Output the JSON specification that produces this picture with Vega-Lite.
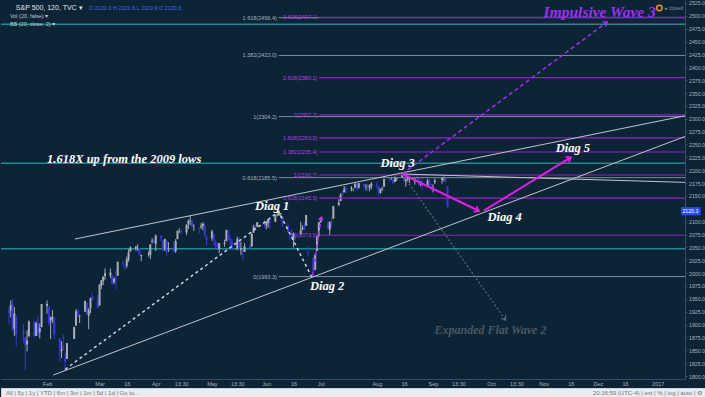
{
"$schema":"https://vega.github.io/schema/vega-lite/v6.json",
"background":"#0c2436",
"padding":0,
"spacing":0,
"config":{"view":{"stroke":null},"font":"Liberation Sans","axis":{"grid":false,"labelOverlap":false}},
"datasets":{
"bars":[
{"t":"2016-01-11","o":1926,"h":1935,"l":1901,"c":1923},{"t":"2016-01-12","o":1927,"h":1947,"l":1914,"c":1938},{"t":"2016-01-13","o":1940,"h":1950,"l":1886,"c":1890},{"t":"2016-01-14","o":1892,"h":1934,"l":1878,"c":1922},{"t":"2016-01-15","o":1917,"h":1917,"l":1857,"c":1880},{"t":"2016-01-19","o":1888,"h":1901,"l":1864,"c":1881},{"t":"2016-01-20","o":1876,"h":1876,"l":1812,"c":1859},{"t":"2016-01-21","o":1861,"h":1889,"l":1848,"c":1869},{"t":"2016-01-22","o":1877,"h":1908,"l":1877,"c":1906},{"t":"2016-01-25","o":1906,"h":1906,"l":1875,"c":1878},{"t":"2016-01-26","o":1878,"h":1906,"l":1878,"c":1903},{"t":"2016-01-27","o":1903,"h":1917,"l":1878,"c":1882},{"t":"2016-01-28","o":1885,"h":1902,"l":1873,"c":1893},{"t":"2016-01-29","o":1895,"h":1940,"l":1895,"c":1940},
{"t":"2016-02-01","o":1936,"h":1947,"l":1921,"c":1940},{"t":"2016-02-02","o":1935,"h":1935,"l":1898,"c":1903},{"t":"2016-02-03","o":1908,"h":1916,"l":1872,"c":1913},{"t":"2016-02-04","o":1911,"h":1928,"l":1903,"c":1915},{"t":"2016-02-05","o":1914,"h":1914,"l":1872,"c":1880},{"t":"2016-02-08","o":1873,"h":1873,"l":1828,"c":1853},{"t":"2016-02-09","o":1848,"h":1868,"l":1835,"c":1852},{"t":"2016-02-10","o":1858,"h":1881,"l":1850,"c":1851},{"t":"2016-02-11","o":1833,"h":1846,"l":1810,"c":1829},{"t":"2016-02-12","o":1833,"h":1864,"l":1833,"c":1864},{"t":"2016-02-16","o":1872,"h":1896,"l":1872,"c":1895},{"t":"2016-02-17","o":1898,"h":1930,"l":1898,"c":1926},{"t":"2016-02-18","o":1927,"h":1930,"l":1915,"c":1917},{"t":"2016-02-19","o":1916,"h":1919,"l":1903,"c":1917},{"t":"2016-02-22","o":1925,"h":1946,"l":1925,"c":1946},{"t":"2016-02-23","o":1942,"h":1942,"l":1919,"c":1921},{"t":"2016-02-24","o":1917,"h":1932,"l":1891,"c":1929},{"t":"2016-02-25","o":1932,"h":1952,"l":1922,"c":1952},{"t":"2016-02-26","o":1955,"h":1962,"l":1946,"c":1948},{"t":"2016-02-29","o":1947,"h":1958,"l":1932,"c":1932},
{"t":"2016-03-01","o":1937,"h":1978,"l":1937,"c":1978},{"t":"2016-03-02","o":1976,"h":1986,"l":1969,"c":1986},{"t":"2016-03-03","o":1985,"h":1994,"l":1977,"c":1993},{"t":"2016-03-04","o":1994,"h":2009,"l":1987,"c":2000},{"t":"2016-03-07","o":1996,"h":2009,"l":1990,"c":2001},{"t":"2016-03-08","o":1996,"h":1996,"l":1977,"c":1979},{"t":"2016-03-09","o":1982,"h":1992,"l":1979,"c":1989},{"t":"2016-03-10","o":1991,"h":2005,"l":1969,"c":1989},{"t":"2016-03-11","o":1995,"h":2022,"l":1995,"c":2022},{"t":"2016-03-14","o":2020,"h":2024,"l":2013,"c":2019},{"t":"2016-03-15","o":2016,"h":2016,"l":2006,"c":2015},{"t":"2016-03-16","o":2014,"h":2032,"l":2010,"c":2027},{"t":"2016-03-17","o":2026,"h":2046,"l":2022,"c":2040},{"t":"2016-03-18","o":2042,"h":2052,"l":2042,"c":2050},{"t":"2016-03-21","o":2048,"h":2053,"l":2044,"c":2051},{"t":"2016-03-22","o":2048,"h":2056,"l":2043,"c":2049},{"t":"2016-03-23","o":2048,"h":2049,"l":2034,"c":2036},{"t":"2016-03-24","o":2033,"h":2036,"l":2023,"c":2035},{"t":"2016-03-28","o":2037,"h":2042,"l":2032,"c":2037},{"t":"2016-03-29","o":2035,"h":2056,"l":2027,"c":2056},{"t":"2016-03-30","o":2061,"h":2068,"l":2058,"c":2063},{"t":"2016-03-31","o":2063,"h":2067,"l":2058,"c":2060},
{"t":"2016-04-01","o":2057,"h":2075,"l":2043,"c":2073},{"t":"2016-04-04","o":2073,"h":2074,"l":2062,"c":2067},{"t":"2016-04-05","o":2063,"h":2063,"l":2042,"c":2045},{"t":"2016-04-06","o":2046,"h":2067,"l":2043,"c":2066},{"t":"2016-04-07","o":2063,"h":2063,"l":2033,"c":2041},{"t":"2016-04-08","o":2046,"h":2060,"l":2041,"c":2048},{"t":"2016-04-11","o":2050,"h":2062,"l":2041,"c":2041},{"t":"2016-04-12","o":2043,"h":2066,"l":2039,"c":2062},{"t":"2016-04-13","o":2066,"h":2083,"l":2066,"c":2082},{"t":"2016-04-14","o":2082,"h":2087,"l":2078,"c":2082},{"t":"2016-04-15","o":2083,"h":2083,"l":2075,"c":2080},{"t":"2016-04-18","o":2079,"h":2095,"l":2074,"c":2094},{"t":"2016-04-19","o":2096,"h":2104,"l":2086,"c":2101},{"t":"2016-04-20","o":2101,"h":2111,"l":2093,"c":2102},{"t":"2016-04-21","o":2102,"h":2103,"l":2088,"c":2091},{"t":"2016-04-22","o":2091,"h":2095,"l":2082,"c":2092},{"t":"2016-04-25","o":2089,"h":2089,"l":2077,"c":2088},{"t":"2016-04-26","o":2089,"h":2097,"l":2086,"c":2091},{"t":"2016-04-27","o":2091,"h":2099,"l":2083,"c":2096},{"t":"2016-04-28","o":2091,"h":2097,"l":2071,"c":2075},{"t":"2016-04-29","o":2071,"h":2074,"l":2054,"c":2065},
{"t":"2016-05-02","o":2068,"h":2084,"l":2063,"c":2081},{"t":"2016-05-03","o":2077,"h":2077,"l":2054,"c":2064},{"t":"2016-05-04","o":2060,"h":2064,"l":2045,"c":2052},{"t":"2016-05-05","o":2053,"h":2060,"l":2045,"c":2051},{"t":"2016-05-06","o":2047,"h":2058,"l":2039,"c":2058},{"t":"2016-05-09","o":2057,"h":2065,"l":2051,"c":2059},{"t":"2016-05-10","o":2062,"h":2084,"l":2062,"c":2084},{"t":"2016-05-11","o":2083,"h":2083,"l":2064,"c":2064},{"t":"2016-05-12","o":2067,"h":2073,"l":2053,"c":2065},{"t":"2016-05-13","o":2062,"h":2067,"l":2044,"c":2047},{"t":"2016-05-16","o":2046,"h":2071,"l":2046,"c":2066},{"t":"2016-05-17","o":2066,"h":2070,"l":2044,"c":2047},{"t":"2016-05-18","o":2045,"h":2061,"l":2035,"c":2048},{"t":"2016-05-19","o":2045,"h":2045,"l":2025,"c":2041},{"t":"2016-05-20","o":2041,"h":2058,"l":2041,"c":2052},{"t":"2016-05-23","o":2053,"h":2055,"l":2047,"c":2048},{"t":"2016-05-24","o":2052,"h":2079,"l":2052,"c":2076},{"t":"2016-05-25","o":2079,"h":2094,"l":2078,"c":2090},{"t":"2016-05-26","o":2091,"h":2094,"l":2085,"c":2090},{"t":"2016-05-27","o":2090,"h":2099,"l":2090,"c":2099},{"t":"2016-05-31","o":2100,"h":2104,"l":2089,"c":2097},
{"t":"2016-06-01","o":2093,"h":2101,"l":2085,"c":2100},{"t":"2016-06-02","o":2097,"h":2105,"l":2088,"c":2105},{"t":"2016-06-03","o":2104,"h":2104,"l":2086,"c":2099},{"t":"2016-06-06","o":2100,"h":2114,"l":2099,"c":2110},{"t":"2016-06-07","o":2111,"h":2120,"l":2110,"c":2112},{"t":"2016-06-08","o":2112,"h":2121,"l":2112,"c":2119},{"t":"2016-06-09","o":2115,"h":2117,"l":2107,"c":2116},{"t":"2016-06-10","o":2110,"h":2110,"l":2089,"c":2096},{"t":"2016-06-13","o":2091,"h":2098,"l":2078,"c":2079},{"t":"2016-06-14","o":2076,"h":2081,"l":2064,"c":2075},{"t":"2016-06-15","o":2077,"h":2086,"l":2070,"c":2072},{"t":"2016-06-16","o":2067,"h":2079,"l":2050,"c":2077},{"t":"2016-06-17","o":2074,"h":2074,"l":2063,"c":2071},{"t":"2016-06-20","o":2075,"h":2100,"l":2075,"c":2083},{"t":"2016-06-21","o":2085,"h":2093,"l":2083,"c":2088},{"t":"2016-06-22","o":2089,"h":2099,"l":2084,"c":2085},{"t":"2016-06-23","o":2092,"h":2113,"l":2092,"c":2113},{"t":"2016-06-24","o":2038,"h":2052,"l":2032,"c":2037},{"t":"2016-06-27","o":2031,"h":2031,"l":1992,"c":2001},{"t":"2016-06-28","o":2006,"h":2036,"l":2006,"c":2036},{"t":"2016-06-29","o":2043,"h":2073,"l":2043,"c":2071},{"t":"2016-06-30","o":2073,"h":2098,"l":2070,"c":2099},
{"t":"2016-07-01","o":2099,"h":2109,"l":2098,"c":2103},{"t":"2016-07-05","o":2096,"h":2101,"l":2086,"c":2088},{"t":"2016-07-06","o":2084,"h":2100,"l":2074,"c":2100},{"t":"2016-07-07","o":2100,"h":2109,"l":2089,"c":2097},{"t":"2016-07-08","o":2106,"h":2131,"l":2106,"c":2130},{"t":"2016-07-11","o":2132,"h":2143,"l":2131,"c":2137},{"t":"2016-07-12","o":2140,"h":2155,"l":2140,"c":2152},{"t":"2016-07-13","o":2156,"h":2159,"l":2150,"c":2152},{"t":"2016-07-14","o":2157,"h":2169,"l":2157,"c":2163},{"t":"2016-07-15","o":2165,"h":2169,"l":2156,"c":2162},{"t":"2016-07-18","o":2163,"h":2169,"l":2159,"c":2166},{"t":"2016-07-19","o":2163,"h":2164,"l":2159,"c":2163},{"t":"2016-07-20","o":2166,"h":2175,"l":2165,"c":2173},{"t":"2016-07-21","o":2173,"h":2175,"l":2160,"c":2165},{"t":"2016-07-22","o":2166,"h":2175,"l":2164,"c":2175},{"t":"2016-07-25","o":2173,"h":2173,"l":2165,"c":2169},{"t":"2016-07-26","o":2168,"h":2173,"l":2161,"c":2169},{"t":"2016-07-27","o":2170,"h":2174,"l":2159,"c":2166},{"t":"2016-07-28","o":2166,"h":2173,"l":2159,"c":2170},{"t":"2016-07-29","o":2169,"h":2177,"l":2163,"c":2174},
{"t":"2016-08-01","o":2173,"h":2178,"l":2163,"c":2171},{"t":"2016-08-02","o":2169,"h":2170,"l":2148,"c":2157},{"t":"2016-08-03","o":2156,"h":2164,"l":2154,"c":2164},{"t":"2016-08-04","o":2163,"h":2168,"l":2160,"c":2164},{"t":"2016-08-05","o":2168,"h":2183,"l":2168,"c":2183},{"t":"2016-08-08","o":2183,"h":2185,"l":2178,"c":2181},{"t":"2016-08-09","o":2182,"h":2187,"l":2181,"c":2182},{"t":"2016-08-10","o":2182,"h":2183,"l":2172,"c":2175},{"t":"2016-08-11","o":2177,"h":2188,"l":2177,"c":2186},{"t":"2016-08-12","o":2183,"h":2186,"l":2179,"c":2184},{"t":"2016-08-15","o":2186,"h":2194,"l":2186,"c":2191},{"t":"2016-08-16","o":2187,"h":2187,"l":2179,"c":2179},{"t":"2016-08-17","o":2178,"h":2183,"l":2168,"c":2182},{"t":"2016-08-18","o":2181,"h":2188,"l":2180,"c":2187},{"t":"2016-08-19","o":2184,"h":2185,"l":2175,"c":2184},{"t":"2016-08-22","o":2181,"h":2185,"l":2172,"c":2182},{"t":"2016-08-23","o":2187,"h":2193,"l":2186,"c":2186},{"t":"2016-08-24","o":2185,"h":2186,"l":2171,"c":2175},{"t":"2016-08-25","o":2173,"h":2179,"l":2169,"c":2173},{"t":"2016-08-26","o":2175,"h":2187,"l":2160,"c":2169},{"t":"2016-08-29","o":2170,"h":2183,"l":2170,"c":2180},{"t":"2016-08-30","o":2179,"h":2183,"l":2170,"c":2176},{"t":"2016-08-31","o":2173,"h":2174,"l":2161,"c":2171},
{"t":"2016-09-01","o":2171,"h":2173,"l":2157,"c":2171},{"t":"2016-09-02","o":2177,"h":2184,"l":2173,"c":2180},{"t":"2016-09-06","o":2181,"h":2186,"l":2174,"c":2186},{"t":"2016-09-07","o":2185,"h":2188,"l":2178,"c":2186},{"t":"2016-09-08","o":2183,"h":2185,"l":2175,"c":2181},{"t":"2016-09-09","o":2169,"h":2169,"l":2128,"c":2128}
],
"teal":[{"p":2483.5},{"p":2213.4},{"p":2047.5}],
"gfib":[{"t":"2016-06-07T22:00:00Z","t2":"2017-01-24T00:00:00Z","p":1993.3,"lv":"0(1993.3)"},{"t":"2016-06-07T22:00:00Z","t2":"2017-01-24T00:00:00Z","p":2185.5,"lv":"0.618(2185.5)"},{"t":"2016-06-07T22:00:00Z","t2":"2017-01-24T00:00:00Z","p":2304.2,"lv":"1(2304.2)"},{"t":"2016-06-07T22:00:00Z","t2":"2017-01-24T00:00:00Z","p":2423.0,"lv":"1.382(2423.0)"},{"t":"2016-06-07T22:00:00Z","t2":"2017-01-24T00:00:00Z","p":2496.4,"lv":"1.618(2496.4)"}],
"mfib":[{"t":"2016-06-30T07:00:00Z","t2":"2017-01-24T00:00:00Z","p":2073.6,"lv":"0(2073.6)"},{"t":"2016-06-30T07:00:00Z","t2":"2017-01-24T00:00:00Z","p":2145.9,"lv":"0.618(2145.9)"},{"t":"2016-06-30T07:00:00Z","t2":"2017-01-24T00:00:00Z","p":2190.7,"lv":"1(2190.7)"},{"t":"2016-06-30T07:00:00Z","t2":"2017-01-24T00:00:00Z","p":2235.4,"lv":"1.382(2235.4)"},{"t":"2016-06-30T07:00:00Z","t2":"2017-01-24T00:00:00Z","p":2263.0,"lv":"1.618(2263.0)"},{"t":"2016-06-30T07:00:00Z","t2":"2017-01-24T00:00:00Z","p":2307.7,"lv":"2(2307.7)"},{"t":"2016-06-30T07:00:00Z","t2":"2017-01-24T00:00:00Z","p":2380.1,"lv":"2.618(2380.1)"},{"t":"2016-06-30T07:00:00Z","t2":"2017-01-24T00:00:00Z","p":2497.1,"lv":"3.618(2497.1)"}],
"chan":[{"id":"lo","t":"2016-02-04T11:00:00Z","p":1801.9},{"id":"lo","t":"2017-01-24T00:00:00Z","p":2273.5},{"id":"up","t":"2016-02-16T10:30:00Z","p":2066.3},{"id":"up","t":"2017-01-24T00:00:00Z","p":2310.0},{"id":"sl","t":"2016-08-15T00:00:00Z","p":2192.6},{"id":"sl","t":"2017-01-24T00:00:00Z","p":2175.7}],
"wdash":[{"t":"2016-02-11T00:00:00Z","p":1813.0},{"t":"2016-06-07T22:00:00Z","p":2119.3},{"t":"2016-06-26T00:00:00Z","p":1993.0}],
"mdash":[{"id":"a","t":"2016-06-26T12:00:00Z","p":1994.0},{"id":"a","t":"2016-07-01T10:00:00Z","p":2109.0},{"id":"b","t":"2016-08-15T00:00:00Z","p":2192.6},{"id":"b","t":"2016-12-06T02:00:00Z","p":2488.0}],
"gdash":[{"t":"2016-08-15T00:00:00Z","p":2192.6},{"t":"2016-10-11T02:00:00Z","p":1908.8}],
"marrow":[{"id":"a","t":"2016-08-15T00:00:00Z","p":2192.6},{"id":"a","t":"2016-09-26T10:00:00Z","p":2120.7},{"id":"b","t":"2016-09-29T02:00:00Z","p":2121.3},{"id":"b","t":"2016-11-16T02:00:00Z","p":2225.1}],
"heads":[{"k":"a1","t":"2016-09-26T10:00:00Z","p":2120.7},{"k":"a2","t":"2016-11-16T02:00:00Z","p":2225.1},{"k":"md","t":"2016-12-06T02:00:00Z","p":2488.0},{"k":"gd","t":"2016-10-11T02:00:00Z","p":1908.8},{"k":"ms","t":"2016-07-01T10:00:00Z","p":2109.0}],
"notes":[{"k":"w","t":"2016-03-14T14:00:00Z","p":2222.7,"txt":"1.618X up from the 2009 lows"},{"k":"w","t":"2016-06-04T06:00:00Z","p":2131.4,"txt":"Diag 1"},{"k":"w","t":"2016-07-04T14:00:00Z","p":1974.9,"txt":"Diag 2"},{"k":"w","t":"2016-08-12T12:00:00Z","p":2214.0,"txt":"Diag 3"},{"k":"w","t":"2016-10-10T12:00:00Z","p":2109.6,"txt":"Diag 4"},{"k":"w","t":"2016-11-17T05:00:00Z","p":2242.6,"txt":"Diag 5"},{"k":"i","t":"2016-12-02T00:00:00Z","p":2507.5,"txt":"Impulsive Wave 3"},{"k":"e","t":"2016-10-02T17:00:00Z","p":1889.4,"txt":"Expanded Flat Wave 2"}],
"hdr":[{"k":"t","t":"2016-01-14T19:00:00Z","p":2514.3,"txt":"S&P 500, 120, TVC ▾"},{"k":"o","t":"2016-02-24T01:00:00Z","p":2514.3,"txt":"O 2120.3  H 2121.6  L 2119.9  C 2120.3"},{"k":"s","t":"2016-01-11T13:00:00Z","p":2499.7,"txt":"Vol (20, false) ▾"},{"k":"s","t":"2016-01-11T13:00:00Z","p":2483.2,"txt":"BB (20, close, 2) ▾"},{"k":"c","t":"2017-01-06T14:00:00Z","p":2515.3,"txt":"● closed"}],
"pbox":[{"t":"2017-01-15T22:00:00Z","t2":"2017-01-26T16:00:00Z","p":2128.3,"p2":2112.3,"tc":"2017-01-21T00:00:00Z","pc":2120.3,"txt":"2120.3"}],
"ring":[{"t":"2017-01-03T22:00:00Z","p":2515.3}]
},
"vconcat":[
{
"width":684,"height":379,
"view":{"fill":"#0c2436","stroke":null},
"layer":[
{"data":{"name":"teal"},"mark":{"type":"rule","color":"#1d8a91","strokeWidth":1.5},
 "encoding":{"y":{"field":"p","type":"quantitative","scale":{"domain":[1794.2,2530.8],"zero":false,"nice":false},
  "axis":{"orient":"right","values":[1800,1825,1850,1875,1900,1925,1950,1975,2000,2025,2050,2075,2100,2150,2175,2200,2225,2250,2275,2300,2325,2350,2375,2400,2425,2450,2475,2500,2525],"tickCount":200,"format":".1f","tickSize":2,"tickColor":"#3a4d60","domainColor":"#3a4d60","labelColor":"#a9b3bd","labelFontSize":5.2,"labelPadding":1.5,"title":null,"labelOverlap":false,"grid":false}}}},
{"data":{"name":"bars"},"mark":{"type":"rule","strokeWidth":1},
 "encoding":{"x":{"field":"t","type":"temporal","scale":{"type":"utc","domain":[{"year":2016,"month":1,"date":9,"hours":9,"utc":true},{"year":2017,"month":1,"date":15,"hours":7,"utc":true}]},
  "axis":{"orient":"bottom","values":[{"year":2016,"month":2,"date":1,"utc":true},{"year":2016,"month":3,"date":1,"utc":true},{"year":2016,"month":3,"date":16,"utc":true},{"year":2016,"month":4,"date":1,"utc":true},{"year":2016,"month":4,"date":15,"utc":true},{"year":2016,"month":5,"date":2,"utc":true},{"year":2016,"month":5,"date":16,"utc":true},{"year":2016,"month":6,"date":1,"utc":true},{"year":2016,"month":6,"date":16,"utc":true},{"year":2016,"month":7,"date":1,"utc":true},{"year":2016,"month":8,"date":1,"utc":true},{"year":2016,"month":8,"date":16,"utc":true},{"year":2016,"month":9,"date":1,"utc":true},{"year":2016,"month":9,"date":15,"utc":true},{"year":2016,"month":10,"date":3,"utc":true},{"year":2016,"month":10,"date":17,"utc":true},{"year":2016,"month":11,"date":1,"utc":true},{"year":2016,"month":11,"date":16,"utc":true},{"year":2016,"month":12,"date":1,"utc":true},{"year":2016,"month":12,"date":16,"utc":true},{"year":2017,"month":1,"date":3,"utc":true}],"tickCount":200,
   "labelExpr":"utcdate(datum.value) <= 5 ? (utcmonth(datum.value) == 0 ? utcFormat(datum.value, '%Y') : utcFormat(datum.value, '%b')) : (indexof(['0415','0516','0915','1017'], utcFormat(datum.value, '%m%d')) >= 0 ? '13:30' : '16')",
   "ticks":false,"domainColor":"#3a4d60","labelColor":"#a9b3bd","labelFontSize":5.5,"labelPadding":2,"title":null,"labelOverlap":false,"minExtent":8,"maxExtent":8,"grid":false}},
  "y":{"field":"l","type":"quantitative"},"y2":{"field":"h"},
  "color":{"condition":{"test":"datum.c >= datum.o","value":"#a9aeb6"},"value":"#3838d8"}}},
{"data":{"name":"bars"},"mark":{"type":"bar","size":2},
 "encoding":{"x":{"field":"t","type":"temporal"},"y":{"field":"o","type":"quantitative"},"y2":{"field":"c"},
  "color":{"condition":{"test":"datum.c >= datum.o","value":"#a9aeb6"},"value":"#3838d8"}}},
{"data":{"name":"gfib"},"mark":{"type":"rule","color":"#7f8b98","strokeWidth":1,"clip":true},
 "encoding":{"x":{"field":"t","type":"temporal"},"x2":{"field":"t2"},"y":{"field":"p","type":"quantitative"}}},
{"data":{"name":"gfib"},"mark":{"type":"text","align":"right","baseline":"middle","dx":-2,"fontSize":5.5,"color":"#a7b1bc"},
 "encoding":{"x":{"field":"t","type":"temporal"},"y":{"field":"p","type":"quantitative"},"text":{"field":"lv"}}},
{"data":{"name":"mfib"},"mark":{"type":"rule","color":"#8d22c4","strokeWidth":1.2,"clip":true},
 "encoding":{"x":{"field":"t","type":"temporal"},"x2":{"field":"t2"},"y":{"field":"p","type":"quantitative"}}},
{"data":{"name":"mfib"},"mark":{"type":"text","align":"right","baseline":"middle","dx":-2,"fontSize":5.5,"color":"#b93de4"},
 "encoding":{"x":{"field":"t","type":"temporal"},"y":{"field":"p","type":"quantitative"},"text":{"field":"lv"}}},
{"data":{"name":"chan"},"mark":{"type":"line","color":"#c2c6cc","strokeWidth":1,"clip":true},
 "encoding":{"x":{"field":"t","type":"temporal"},"y":{"field":"p","type":"quantitative"},"detail":{"field":"id"}}},
{"data":{"name":"wdash"},"mark":{"type":"line","color":"#c9d2ea","strokeWidth":1.5,"strokeDash":[3,3]},
 "encoding":{"x":{"field":"t","type":"temporal"},"y":{"field":"p","type":"quantitative"}}},
{"data":{"name":"mdash"},"mark":{"type":"line","color":"#a02ef4","strokeWidth":1.5,"strokeDash":[4,3]},
 "encoding":{"x":{"field":"t","type":"temporal"},"y":{"field":"p","type":"quantitative"},"detail":{"field":"id"}}},
{"data":{"name":"gdash"},"mark":{"type":"line","color":"#5f6872","strokeWidth":1.2,"strokeDash":[2,2]},
 "encoding":{"x":{"field":"t","type":"temporal"},"y":{"field":"p","type":"quantitative"}}},
{"data":{"name":"marrow"},"mark":{"type":"line","color":"#e21ee8","strokeWidth":2},
 "encoding":{"x":{"field":"t","type":"temporal"},"y":{"field":"p","type":"quantitative"},"detail":{"field":"id"}}},
{"data":{"name":"heads"},"transform":[{"filter":"datum.k == 'a1'"}],"mark":{"type":"point","shape":"M-1,-0.7L0,0L-1,0.7","filled":false,"stroke":"#e21ee8","strokeWidth":1.8,"size":80,"angle":25,"opacity":1},
 "encoding":{"x":{"field":"t","type":"temporal"},"y":{"field":"p","type":"quantitative"}}},
{"data":{"name":"heads"},"transform":[{"filter":"datum.k == 'a2'"}],"mark":{"type":"point","shape":"M-1,-0.7L0,0L-1,0.7","filled":false,"stroke":"#e21ee8","strokeWidth":1.8,"size":80,"angle":329,"opacity":1},
 "encoding":{"x":{"field":"t","type":"temporal"},"y":{"field":"p","type":"quantitative"}}},
{"data":{"name":"heads"},"transform":[{"filter":"datum.k == 'md'"}],"mark":{"type":"point","shape":"M-1,-0.7L0,0L-1,0.7","filled":false,"stroke":"#a02ef4","strokeWidth":1.5,"size":60,"angle":324,"opacity":1},
 "encoding":{"x":{"field":"t","type":"temporal"},"y":{"field":"p","type":"quantitative"}}},
{"data":{"name":"heads"},"transform":[{"filter":"datum.k == 'gd'"}],"mark":{"type":"point","shape":"M-1,-0.7L0,0L-1,0.7","filled":false,"stroke":"#5f6872","strokeWidth":1.2,"size":60,"angle":54,"opacity":1},
 "encoding":{"x":{"field":"t","type":"temporal"},"y":{"field":"p","type":"quantitative"}}},
{"data":{"name":"heads"},"transform":[{"filter":"datum.k == 'ms'"}],"mark":{"type":"point","shape":"M-1,-0.7L0,0L-1,0.7","filled":false,"stroke":"#c040f0","strokeWidth":1.2,"size":40,"angle":281,"opacity":1},
 "encoding":{"x":{"field":"t","type":"temporal"},"y":{"field":"p","type":"quantitative"}}},
{"data":{"name":"notes"},"transform":[{"filter":"datum.k == 'w'"}],"mark":{"type":"text","font":"Liberation Serif","fontStyle":"italic","fontWeight":"bold","fontSize":12.5,"color":"#ffffff","baseline":"middle","align":"center"},
 "encoding":{"x":{"field":"t","type":"temporal"},"y":{"field":"p","type":"quantitative"},"text":{"field":"txt"}}},
{"data":{"name":"notes"},"transform":[{"filter":"datum.k == 'i'"}],"mark":{"type":"text","font":"Liberation Serif","fontStyle":"italic","fontWeight":"bold","fontSize":15.5,"color":"#9c2ff8","baseline":"middle","align":"center"},
 "encoding":{"x":{"field":"t","type":"temporal"},"y":{"field":"p","type":"quantitative"},"text":{"field":"txt"}}},
{"data":{"name":"notes"},"transform":[{"filter":"datum.k == 'e'"}],"mark":{"type":"text","font":"Liberation Serif","fontStyle":"italic","fontWeight":"bold","fontSize":12,"color":"#4a5662","baseline":"middle","align":"center"},
 "encoding":{"x":{"field":"t","type":"temporal"},"y":{"field":"p","type":"quantitative"},"text":{"field":"txt"}}},
{"data":{"name":"hdr"},"transform":[{"filter":"datum.k == 't'"}],"mark":{"type":"text","align":"left","baseline":"middle","fontSize":7,"color":"#e3e7eb"},
 "encoding":{"x":{"field":"t","type":"temporal"},"y":{"field":"p","type":"quantitative"},"text":{"field":"txt"}}},
{"data":{"name":"hdr"},"transform":[{"filter":"datum.k == 'o'"}],"mark":{"type":"text","align":"left","baseline":"middle","fontSize":5.5,"color":"#3f6cf0"},
 "encoding":{"x":{"field":"t","type":"temporal"},"y":{"field":"p","type":"quantitative"},"text":{"field":"txt"}}},
{"data":{"name":"hdr"},"transform":[{"filter":"datum.k == 's'"}],"mark":{"type":"text","align":"left","baseline":"middle","fontSize":5.5,"color":"#c3c9cf"},
 "encoding":{"x":{"field":"t","type":"temporal"},"y":{"field":"p","type":"quantitative"},"text":{"field":"txt"}}},
{"data":{"name":"hdr"},"transform":[{"filter":"datum.k == 'c'"}],"mark":{"type":"text","align":"left","baseline":"middle","fontSize":5,"color":"#8a949e"},
 "encoding":{"x":{"field":"t","type":"temporal"},"y":{"field":"p","type":"quantitative"},"text":{"field":"txt"}}},
{"data":{"name":"ring"},"mark":{"type":"point","shape":"circle","filled":false,"stroke":"#e8912c","strokeWidth":1.5,"size":30,"opacity":1},
 "encoding":{"x":{"field":"t","type":"temporal"},"y":{"field":"p","type":"quantitative"}}},
{"data":{"name":"pbox"},"mark":{"type":"rect","color":"#2a4bf5"},
 "encoding":{"x":{"field":"t","type":"temporal"},"x2":{"field":"t2"},"y":{"field":"p","type":"quantitative"},"y2":{"field":"p2"}}},
{"data":{"name":"pbox"},"mark":{"type":"text","align":"center","baseline":"middle","fontSize":5.2,"color":"#ffffff"},
 "encoding":{"x":{"field":"tc","type":"temporal"},"y":{"field":"pc","type":"quantitative"},"text":{"field":"txt"}}}
]
},
{
"width":705,"height":10,
"view":{"fill":"#e9ecf0","stroke":"#cfd4da"},
"data":{"values":[{"side":"left","txt":"All  |  5y  |  1y  |  YTD  |  6m  |  3m  |  1m  |  5d  |  1d  |  Go to..."},{"side":"right","txt":"20:16:59 (UTC-4)  |  ext  |  %  |  log  |  auto  |  ⚙"}]},
"layer":[
{"transform":[{"filter":"datum.side == 'left'"}],"mark":{"type":"text","align":"left","baseline":"middle","fontSize":6,"color":"#6f7984"},
 "encoding":{"x":{"field":"side","type":"nominal","scale":{"type":"point","domain":["left","right"],"range":[5,701],"padding":0},"axis":null},"text":{"field":"txt"}}},
{"transform":[{"filter":"datum.side == 'right'"}],"mark":{"type":"text","align":"right","baseline":"middle","fontSize":6,"color":"#6f7984"},
 "encoding":{"x":{"field":"side","type":"nominal"},"text":{"field":"txt"}}}
]
}
]
}
